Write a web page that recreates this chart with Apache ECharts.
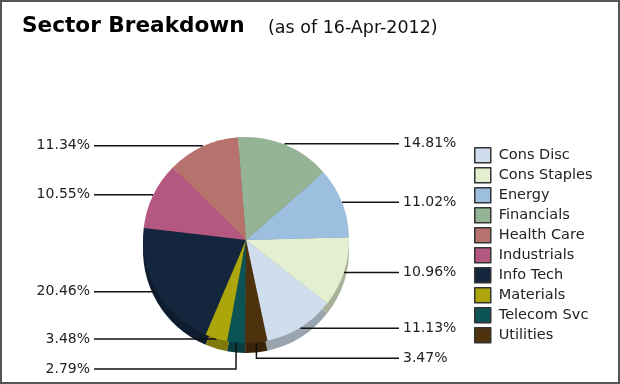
<!DOCTYPE html>
<html><head><meta charset="utf-8">
<script src="https://cdn.jsdelivr.net/npm/echarts@6/dist/echarts.min.js"></script>
<style>html,body{margin:0;padding:0;background:#fff}#c{width:620px;height:384px}</style>
</head><body><div id="c"></div>
<script>
const categories = ['Cons Disc','Cons Staples','Energy','Financials','Health Care','Industrials','Info Tech','Materials','Telecom Svc','Utilities'];
const weights = [11.13,10.96,11.02,14.81,11.34,10.55,20.46,3.48,2.79,3.47];
const colors = ['#cfdded','#e3efd0','#9cbfdf','#95b395','#b7726d','#b45881','#14263e','#ada50c','#0c5356','#4e310d'];
const titleText = 'Sector Breakdown';
const subtitleText = '(as of 16-Apr-2012)';

function darken(hex, f) {
  const n = parseInt(hex.slice(1), 16);
  const r = Math.round(((n >> 16) & 255) * f), g = Math.round(((n >> 8) & 255) * f), b = Math.round((n & 255) * f);
  return 'rgb(' + r + ',' + g + ',' + b + ')';
}

const START = -78;
const total = weights.reduce((a, b) => a + b, 0);
// which side each label falls on (counter-clockwise slices)
let acc = 0;
const isLeft = weights.map(w => {
  const mid = START + (acc + w / 2) / total * 360;
  acc += w;
  return Math.cos(mid * Math.PI / 180) < 0;
});

const chart = echarts.init(document.getElementById('c'), null, {renderer: 'canvas'});
const CX = 246, CY = 240, R = 103, DEPTH = 10;
const LABEL_W = 56;
const option = {
  animation: false,
  legend: {
    orient: 'vertical', left: 474, top: 147, padding: 0, itemWidth: 16, itemHeight: 15, itemGap: 3.5,
    icon: 'rect', selectedMode: false, data: categories,
    itemStyle: {borderColor: '#333', borderWidth: 1.5},
    textStyle: {fontFamily: 'DejaVu Sans', fontSize: 14.5, color: '#222', padding: [0, 0, 0, 3]}
  },
  graphic: [
    {type: 'text', left: 22, top: 15, style: {text: titleText, font: 'bold 21.6px "DejaVu Sans"', fill: '#000'}},
    {type: 'text', left: 268, top: 19, style: {text: subtitleText, font: '17.5px "DejaVu Sans"', fill: '#111'}},
    {type: 'rect', shape: {x: 1, y: 1, width: 618, height: 382}, style: {fill: null, stroke: '#555', lineWidth: 2}, z: 100}
  ],
  series: [
    {
      type: 'pie', name: 'top', left: 0, top: 0, width: 493, height: 384,
      center: [CX, CY], radius: R, startAngle: START, clockwise: false, z: 3,
      data: categories.map((n, i) => ({
        name: n, value: weights[i], itemStyle: {color: colors[i]},
        label: {formatter: (isLeft[i] ? '{l|' : '{r|') + weights[i].toFixed(2) + '%}'}
      })),
      label: {
        show: true, width: LABEL_W, lineHeight: 28,
        fontFamily: 'DejaVu Sans', fontSize: 14, color: '#222',
        alignTo: 'edge', edgeDistance: 34, distanceToLabelLine: 4,
        rich: {
          l: {align: 'right', fontFamily: 'DejaVu Sans', fontSize: 14, color: '#222', lineHeight: 28},
          r: {align: 'left', fontFamily: 'DejaVu Sans', fontSize: 14, color: '#222', lineHeight: 28}
        }
      },
      labelLine: {show: true, length: 1, length2: 30, lineStyle: {color: '#111', width: 1.5}},
      emphasis: {disabled: true}
    },
    {
      type: 'pie', name: 'side', left: 0, top: 0, width: 493, height: 384, silent: true,
      center: [CX, CY + DEPTH], radius: R, startAngle: START, clockwise: false, z: 2,
      data: categories.map((n, i) => ({name: n + ' side', value: weights[i], itemStyle: {color: darken(colors[i], 0.74)}})),
      label: {show: false}, labelLine: {show: false}
    }
  ]
};
chart.setOption(option);
</script></body></html>
